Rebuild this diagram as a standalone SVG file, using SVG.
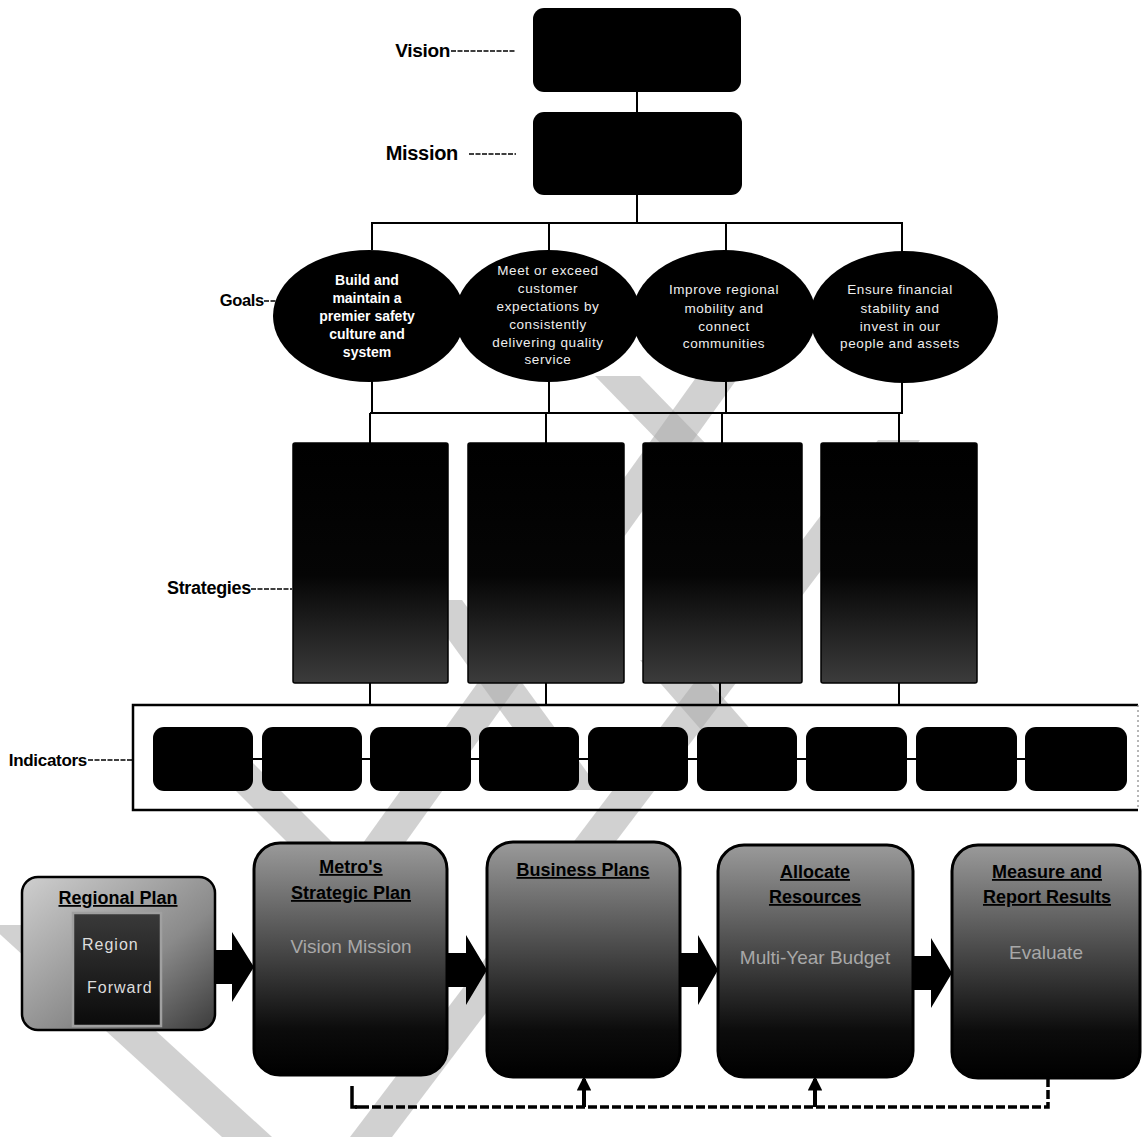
<svg xmlns="http://www.w3.org/2000/svg" width="1143" height="1137" viewBox="0 0 1143 1137">
<style>
.lbl{font-family:"Liberation Sans",Arial,sans-serif;font-weight:bold;fill:#000;letter-spacing:-0.3px}
.lead{stroke:#000;stroke-width:1.6;stroke-dasharray:5 1.5;fill:none}
.ln{stroke:#000;stroke-width:2;fill:none}
.blk{fill:#000}
.gw{font-family:"Liberation Sans",Arial,sans-serif;font-weight:bold;font-size:14px;fill:#fff;text-anchor:middle}
.gr{font-family:"Liberation Sans",Arial,sans-serif;font-size:13.5px;fill:#eee;text-anchor:middle;letter-spacing:0.6px}
.ttl{font-family:"Liberation Sans",Arial,sans-serif;font-weight:bold;font-size:18px;fill:#000;text-anchor:middle;text-decoration:underline}
.sub{font-family:"Liberation Sans",Arial,sans-serif;font-size:19px;fill:#a8a8a8;text-anchor:middle}
.band{fill:#ababab;opacity:0.55}
.ind{fill:#000}
.arrow{fill:#000}
</style>
<defs>
<linearGradient id="gStrat" x1="0" y1="0" x2="0" y2="1">
<stop offset="0" stop-color="#000"/>
<stop offset="0.55" stop-color="#050505"/>
<stop offset="1" stop-color="#3c3c3c"/>
</linearGradient>
<linearGradient id="gProc" x1="0" y1="0" x2="0" y2="1">
<stop offset="0" stop-color="#9a9a9a"/>
<stop offset="0.45" stop-color="#4a4a4a"/>
<stop offset="0.8" stop-color="#0c0c0c"/>
<stop offset="1" stop-color="#000"/>
</linearGradient>
<linearGradient id="gReg" x1="0" y1="0" x2="1" y2="1">
<stop offset="0" stop-color="#cfcfcf"/>
<stop offset="0.6" stop-color="#8a8a8a"/>
<stop offset="1" stop-color="#3a3a3a"/>
</linearGradient>
<linearGradient id="gInner" x1="0" y1="0" x2="0" y2="1">
<stop offset="0" stop-color="#3a3a3a"/>
<stop offset="1" stop-color="#0a0a0a"/>
</linearGradient>
<marker id="up" viewBox="0 0 10 10" refX="8" refY="5" markerWidth="3.6" markerHeight="3.6" orient="auto">
<path d="M0,0 L10,5 L0,10 Z" fill="#000"/>
</marker>
</defs>
<rect width="1143" height="1137" fill="#fff"/>

<g id="watermark">
<polygon class="band" points="700,372 742,372 400,850 358,850"/>
<polygon class="band" points="878,440 920,440 392,1137 350,1137"/>
<polygon class="band" points="-10,925 40,925 272,1137 222,1137"/>
<polygon class="band" points="420,600 462,600 600,790 558,790"/>
<polygon class="band" points="595,376 640,376 712,450 667,450"/>
<polygon class="band" points="205,760 250,760 340,850 295,850"/>
<polygon class="band" points="640,660 690,660 760,740 710,740"/>
</g>

<g id="connectors">
<line class="ln" x1="637" y1="92" x2="637" y2="112"/>
<line class="ln" x1="637" y1="195" x2="637" y2="223"/>
<polyline class="ln" points="372,250 372,223 902,223 902,252"/>
<line class="ln" x1="549" y1="223" x2="549" y2="252"/>
<line class="ln" x1="726" y1="223" x2="726" y2="252"/>
<line class="ln" x1="372" y1="380" x2="372" y2="413"/>
<line class="ln" x1="549" y1="380" x2="549" y2="413"/>
<line class="ln" x1="726" y1="380" x2="726" y2="413"/>
<line class="ln" x1="902" y1="380" x2="902" y2="413"/>
<line class="ln" x1="370" y1="413" x2="903" y2="413"/>
<line class="ln" x1="370" y1="413" x2="370" y2="443"/>
<line class="ln" x1="546" y1="413" x2="546" y2="443"/>
<line class="ln" x1="722" y1="413" x2="722" y2="443"/>
<line class="ln" x1="899" y1="413" x2="899" y2="443"/>
<line class="ln" x1="370" y1="683" x2="370" y2="705"/>
<line class="ln" x1="546" y1="683" x2="546" y2="705"/>
<line class="ln" x1="720" y1="683" x2="720" y2="705"/>
<line class="ln" x1="899" y1="683" x2="899" y2="705"/>
<line class="ln" x1="155" y1="759" x2="1125" y2="759"/>
<path class="arrow" d="M215,950 H232 V932 L254,967 L232,1002 V984 H215 Z"/>
<path class="arrow" d="M447,953 H466 V935 L487,970 L466,1005 V987 H447 Z"/>
<path class="arrow" d="M680,953 H698 V935 L718,970 L698,1005 V987 H680 Z"/>
<path class="arrow" d="M913,956 H931 V938 L952,973 L931,1008 V990 H913 Z"/>
<path d="M1048,1078 V1107 H355" fill="none" stroke="#000" stroke-width="3.5" stroke-dasharray="9 3"/>
<polyline points="360,1107 352,1107 352,1086" fill="none" stroke="#000" stroke-width="3.5"/>
<line x1="584" y1="1107" x2="584" y2="1079" stroke="#000" stroke-width="4" marker-end="url(#up)"/>
<line x1="815" y1="1107" x2="815" y2="1079" stroke="#000" stroke-width="4" marker-end="url(#up)"/>
</g>

<g id="labels">
<text class="lbl" x="450" y="57" font-size="19" text-anchor="end">Vision</text>
<line class="lead" x1="451" y1="51" x2="516" y2="51"/>
<text class="lbl" x="458" y="160" font-size="20" text-anchor="end">Mission</text>
<line class="lead" x1="469" y1="154" x2="516" y2="154"/>
<text class="lbl" x="264" y="306" font-size="16.5" text-anchor="end">Goals</text>
<line class="lead" x1="264" y1="301" x2="278" y2="301"/>
<text class="lbl" x="251" y="594" font-size="18" text-anchor="end">Strategies</text>
<line class="lead" x1="251" y1="589" x2="292" y2="589"/>
<text class="lbl" x="87" y="766" font-size="17" text-anchor="end">Indicators</text>
<line class="lead" x1="88" y1="760" x2="133" y2="760"/>
</g>

<g id="vision"><rect class="blk" x="533" y="8" width="208" height="84" rx="11"/></g>
<g id="mission"><rect class="blk" x="533" y="112" width="209" height="83" rx="11"/></g>

<g id="goal1">
<ellipse class="blk" cx="369" cy="316" rx="96" ry="66"/>
<text class="gw"><tspan x="367" y="285">Build and</tspan><tspan x="367" y="303">maintain a</tspan><tspan x="367" y="321">premier safety</tspan><tspan x="367" y="339">culture and</tspan><tspan x="367" y="357">system</tspan></text>
</g>
<g id="goal2">
<ellipse class="blk" cx="548" cy="316" rx="93" ry="66"/>
<text class="gr"><tspan x="548" y="275">Meet or exceed</tspan><tspan x="548" y="293">customer</tspan><tspan x="548" y="311">expectations by</tspan><tspan x="548" y="329">consistently</tspan><tspan x="548" y="347">delivering quality</tspan><tspan x="548" y="364">service</tspan></text>
</g>
<g id="goal3">
<ellipse class="blk" cx="724" cy="316" rx="92" ry="66"/>
<text class="gr"><tspan x="724" y="294">Improve regional</tspan><tspan x="724" y="313">mobility and</tspan><tspan x="724" y="331">connect</tspan><tspan x="724" y="348">communities</tspan></text>
</g>
<g id="goal4">
<ellipse class="blk" cx="904" cy="317" rx="94" ry="66"/>
<text class="gr"><tspan x="900" y="294">Ensure financial</tspan><tspan x="900" y="313">stability and</tspan><tspan x="900" y="331">invest in our</tspan><tspan x="900" y="348">people and assets</tspan></text>
</g>

<g id="strategy1"><rect x="293" y="443" width="155" height="240" rx="2" fill="url(#gStrat)" stroke="#000" stroke-width="1.5"/></g>
<g id="strategy2"><rect x="468" y="443" width="156" height="240" rx="2" fill="url(#gStrat)" stroke="#000" stroke-width="1.5"/></g>
<g id="strategy3"><rect x="643" y="443" width="159" height="240" rx="2" fill="url(#gStrat)" stroke="#000" stroke-width="1.5"/></g>
<g id="strategy4"><rect x="821" y="443" width="156" height="240" rx="2" fill="url(#gStrat)" stroke="#000" stroke-width="1.5"/></g>

<g id="indicators">
<path d="M1138,705 H133 V810 H1138" fill="none" stroke="#000" stroke-width="2.5"/>
<line x1="1138" y1="705" x2="1138" y2="810" stroke="#888" stroke-width="1.2" stroke-dasharray="2 3"/>
<g id="ind1"><rect class="ind" x="153" y="727" width="100" height="64" rx="11"/></g>
<g id="ind2"><rect class="ind" x="262" y="727" width="100" height="64" rx="11"/></g>
<g id="ind3"><rect class="ind" x="370" y="727" width="101" height="64" rx="11"/></g>
<g id="ind4"><rect class="ind" x="479" y="727" width="100" height="64" rx="11"/></g>
<g id="ind5"><rect class="ind" x="588" y="727" width="100" height="64" rx="11"/></g>
<g id="ind6"><rect class="ind" x="697" y="727" width="100" height="64" rx="11"/></g>
<g id="ind7"><rect class="ind" x="806" y="727" width="101" height="64" rx="11"/></g>
<g id="ind8"><rect class="ind" x="916" y="727" width="101" height="64" rx="11"/></g>
<g id="ind9"><rect class="ind" x="1025" y="727" width="102" height="64" rx="11"/></g>
</g>

<g id="regional-plan">
<rect x="22" y="877" width="193" height="153" rx="16" fill="url(#gReg)" stroke="#000" stroke-width="2.5"/>
<text class="ttl" x="118" y="904">Regional Plan</text>
<rect x="73" y="913" width="88" height="113" fill="url(#gInner)" stroke="#a0a0a0" stroke-width="2.5"/>
<text x="82" y="950" font-family="'Liberation Sans',Arial,sans-serif" font-size="16" fill="#ddd" letter-spacing="1">Region</text>
<text x="87" y="993" font-family="'Liberation Sans',Arial,sans-serif" font-size="16" fill="#ddd" letter-spacing="1">Forward</text>
</g>
<g id="strategic-plan">
<rect x="254" y="843" width="193" height="232" rx="26" fill="url(#gProc)" stroke="#000" stroke-width="3"/>
<text class="ttl" x="351" y="873">Metro's</text>
<text class="ttl" x="351" y="899">Strategic Plan</text>
<text class="sub" x="351" y="953" font-size="20">Vision Mission</text>
</g>
<g id="business-plans">
<rect x="487" y="842" width="193" height="235" rx="26" fill="url(#gProc)" stroke="#000" stroke-width="3"/>
<text class="ttl" x="583" y="876">Business Plans</text>
</g>
<g id="allocate-resources">
<rect x="718" y="845" width="195" height="232" rx="26" fill="url(#gProc)" stroke="#000" stroke-width="3"/>
<text class="ttl" x="815" y="878">Allocate</text>
<text class="ttl" x="815" y="903">Resources</text>
<text class="sub" x="815" y="964">Multi-Year Budget</text>
</g>
<g id="measure-results">
<rect x="952" y="845" width="188" height="233" rx="26" fill="url(#gProc)" stroke="#000" stroke-width="3"/>
<text class="ttl" x="1047" y="878">Measure and</text>
<text class="ttl" x="1047" y="903">Report Results</text>
<text class="sub" x="1046" y="959">Evaluate</text>
</g>
</svg>
